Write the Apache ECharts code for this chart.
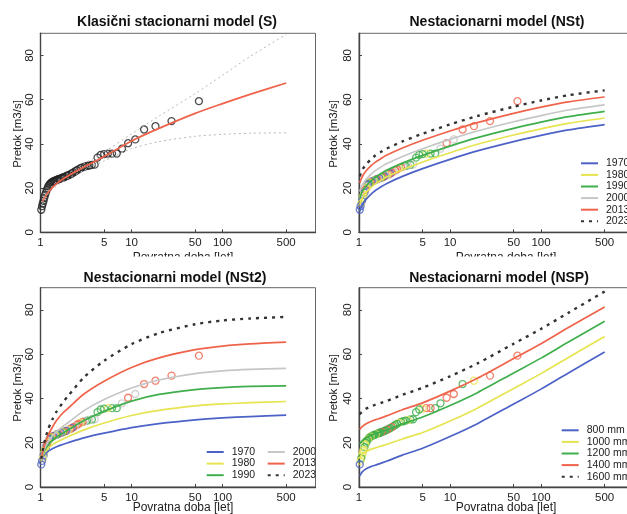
<!DOCTYPE html>
<html><head><meta charset="utf-8">
<script src="https://cdn.jsdelivr.net/npm/echarts@6/dist/echarts.min.js"></script>
<style>html,body{margin:0;padding:0;background:#fff}#c{width:627px;height:514px}</style>
</head><body><div id="c"></div>
<script>
// ---------- data ----------
const xTickValues = [1, 5, 10, 50, 100, 500];
const yTickValues = [0, 20, 40, 60, 80];

// observed annual maxima (plotting positions, sorted descending)
const obsT = [55,27.5,18.33,13.75,11,9.17,7.86,6.88,6.11,5.5,5,4.58,4.23,3.93,3.67,3.44,3.24,3.06,2.89,2.75,2.62,2.5,2.39,2.29,2.2,2.12,2.04,1.96,1.9,1.83,1.77,1.72,1.67,1.62,1.57,1.53,1.49,1.45,1.41,1.38,1.34,1.31,1.28,1.25,1.22,1.2,1.17,1.15,1.12,1.1,1.08,1.06,1.04,1.02];
const obsQ = [59.3,50.3,48.0,46.5,42.0,40.3,37.8,35.6,35.6,35.6,35.4,35.0,33.8,30.6,30.5,30.2,30.0,29.7,29.4,29.0,28.5,28.0,27.5,27.0,26.6,26.2,25.9,25.6,25.3,25.0,24.8,24.6,24.4,24.2,24.0,23.8,23.6,23.4,23.2,23.0,22.7,22.4,22.0,21.5,20.8,20.0,19.2,18.0,16.8,15.5,14.2,13.0,11.8,10.2];
// point classes: decade (B=1970s, Y=1980s, G=1990s, A=2000s, R=2010s) and precipitation class
const obsDecade = ['R','R','R','R','A','R','A','G','G','Y', 'G','G','G','A','G','A','G','A','R','Y', 'R','R','A','R','B','R','Y','A','B','R', 'G','Y','B','A','R','B','G','Y','A','B', 'R','Y','G','B','A','Y','R','B','Y','Y', 'B','Y','B','B'];
const obsPrecip = ['R','R','Y','G','R','R','G','G','R','R', 'Y','G','G','G','G','Y','G','G','G','Y', 'G','G','G','R','G','G','R','G','G','G', 'R','G','G','G','G','Y','G','G','G','G', 'Y','G','G','Y','G','G','Y','G','Y','Y', 'Y','G','Y','B'];

// (S) stationary model
const sT     = [1.05,1.1,1.2,1.35,1.5,1.75,2,3,5,10,20,50,100,200,500];
const sFit   = [14.0,15.5,17.8,20.2,22.0,24.0,25.5,29.5,34.3,41.3,47.0,53.8,58.2,62.4,67.5];
const sLower = [13.2,14.8,17.0,19.3,21.0,22.9,24.3,28.0,32.3,37.8,41.0,43.4,44.3,44.8,45.0];
const sUpper = [14.8,16.3,18.6,21.1,23.0,25.1,26.7,31.0,36.3,44.5,52.5,62.7,71.0,79.5,89.5];

// common return-period grid of the non-stationary curves
const curveT = [1.02,1.05,1.1,1.2,1.35,1.5,1.75,2,3,5,10,20,50,100,200,500];

// (NSt)
const nstNames = ['1970','1980','1990','2000','2013','2023'];
const nst1970 = [9.5,11.0,12.8,15.0,17.2,18.8,20.6,22.0,25.3,28.8,33.0,36.8,41.0,43.8,46.3,48.7];
const nst1980 = [12.5,14.0,15.8,18.0,20.2,21.8,23.6,25.0,28.3,31.8,36.0,39.8,44.0,46.8,49.3,51.7];
const nst1990 = [15.5,17.0,18.8,21.0,23.2,24.8,26.6,28.0,31.3,34.8,39.0,42.8,47.0,49.8,52.3,54.7];
const nst2000 = [18.5,20.0,21.8,24.0,26.2,27.8,29.6,31.0,34.3,37.8,42.0,45.8,50.0,52.8,55.3,57.6];
const nst2013 = [22.3,23.8,25.6,27.8,30.0,31.6,33.4,34.8,38.1,41.6,45.8,49.6,53.8,56.6,59.0,61.2];
const nst2023 = [25.3,26.8,28.6,30.8,33.0,34.6,36.4,37.8,41.1,44.6,48.8,52.6,56.8,59.6,62.0,64.2];

// (NSt2)
const nst2_1970 = [11.5,13.0,14.5,16.0,17.3,18.2,19.2,20.0,22.2,24.3,26.8,28.6,30.3,31.2,31.8,32.5];
const nst2_1980 = [11.8,13.5,15.3,17.3,19.0,20.2,21.6,22.7,25.8,28.9,32.3,34.6,36.6,37.5,38.1,38.6];
const nst2_1990 = [12.0,14.0,16.2,18.8,21.0,22.5,24.3,25.7,30.0,34.2,38.8,41.8,44.0,44.9,45.4,45.7];
const nst2_2000 = [12.2,14.5,17.0,20.2,23.0,25.0,27.3,29.0,34.5,39.5,44.7,48.3,51.2,52.4,53.1,53.6];
const nst2_2013 = [12.5,15.2,18.5,23.0,27.0,30.0,33.3,35.5,42.0,47.8,54.0,58.3,62.0,63.6,64.6,65.4];
const nst2_2023 = [12.8,16.0,20.0,25.5,30.5,34.0,38.0,41.0,49.5,57.0,64.5,69.5,73.5,75.2,76.1,76.8];

// (NSP)
const nspNames = ['800 mm','1000 mm','1200 mm','1400 mm','1600 mm'];
const nsp800  = [5.0,6.0,7.0,8.2,9.2,9.8,10.8,11.6,14.4,17.5,22.8,28.6,37.5,44.2,51.5,61.0];
const nsp1000 = [13.0,14.0,15.0,16.0,17.0,17.6,18.5,19.2,21.7,24.6,29.8,35.6,44.5,51.2,58.5,68.0];
const nsp1200 = [19.5,20.3,21.2,22.4,23.3,24.0,24.9,25.7,28.5,31.6,36.8,42.6,51.5,58.2,65.5,74.8];
const nsp1400 = [26.0,26.7,27.5,28.6,29.6,30.3,31.2,32.1,34.9,38.0,43.3,49.1,58.0,64.7,72.0,81.3];
const nsp1600 = [32.8,33.5,34.3,35.4,36.4,37.1,38.0,38.8,41.6,44.8,50.0,55.8,64.7,71.4,78.7,88.3];

// ---------- styles ----------
const C = {B:'#4c62c6', Y:'#e6e450', G:'#3fae4c', A:'#c6c6c6', R:'#f0634b', K:'#333333'};
const lineColors = [C.B, C.Y, C.G, C.A, C.R, C.K];
const FONT = 'Liberation Sans, Arial, sans-serif';

const grids = [
  {left: 40.5, top: 33.3, width: 275, height: 199},
  {left: 359, top: 33.3, width: 275, height: 199},
  {left: 40.5, top: 287.7, width: 275, height: 199.3},
  {left: 359, top: 287.7, width: 275, height: 199.3}
].map(g => Object.assign(g, {show: true, borderColor: '#666', borderWidth: 1, backgroundColor: 'transparent', containLabel: false, outerBoundsMode: 'none'}));

const xAxes = grids.map((g, i) => ({
  type: 'log', logBase: 10, gridIndex: i, min: 1, max: 1050,
  axisLine: {show: true, lineStyle: {color: '#444', width: 1.4}},
  axisTick: {show: true, inside: true, length: 3, customValues: xTickValues, lineStyle: {color: '#444'}},
  axisLabel: {customValues: xTickValues, margin: 5, fontSize: 11.5, color: '#222', fontFamily: FONT},
  splitLine: {show: false}, minorTick: {show: false}
}));
const yAxes = grids.map((g, i) => ({
  type: 'value', gridIndex: i, min: 0, max: 90,
  axisLine: {show: true, lineStyle: {color: '#444', width: 1.4}},
  axisTick: {show: true, inside: true, length: 3, customValues: yTickValues, lineStyle: {color: '#444'}},
  axisLabel: {customValues: yTickValues, rotate: 90, margin: 5, fontSize: 11.5, color: '#222', fontFamily: FONT},
  splitLine: {show: false}
}));

function pairs(xs, ys) { return xs.map((x, i) => [x, ys[i]]); }
function curve(name, idx, ys, color, dotted) {
  return {
    type: 'line', name: name, xAxisIndex: idx, yAxisIndex: idx,
    data: pairs(curveT, ys), symbol: 'circle', symbolSize: 0, showSymbol: false, smooth: 0.25, z: 3,
    lineStyle: dotted ? {color: color, width: 2.4, type: [3, 5]} : {color: color, width: 1.7},
    itemStyle: {color: 'rgba(0,0,0,0)'}
  };
}
function points(idx, cls) {
  return {
    type: 'scatter', xAxisIndex: idx, yAxisIndex: idx, symbol: 'circle', symbolSize: 7, z: 2,
    data: obsT.map((t, i) => ({value: [t, obsQ[i]], itemStyle: {color: 'rgba(0,0,0,0)', borderColor: cls ? C[cls[i]] : '#222', borderWidth: 1.3}}))
  };
}

const series = [];
// panel 0: S
series.push(points(0, null));
series.push({type: 'line', xAxisIndex: 0, yAxisIndex: 0, data: pairs(sT, sFit), symbol: 'none', smooth: 0.25, z: 3, lineStyle: {color: C.R, width: 1.7}});
series.push({type: 'line', xAxisIndex: 0, yAxisIndex: 0, data: pairs(sT, sLower), symbol: 'none', smooth: 0.25, z: 3, lineStyle: {color: '#b8b8b8', width: 1, type: [2, 3]}});
series.push({type: 'line', xAxisIndex: 0, yAxisIndex: 0, data: pairs(sT, sUpper), symbol: 'none', smooth: 0.25, z: 3, lineStyle: {color: '#b8b8b8', width: 1, type: [2, 3]}});
// panel 1: NSt
series.push(points(1, obsDecade));
[nst1970, nst1980, nst1990, nst2000, nst2013, nst2023].forEach((ys, k) => series.push(curve(nstNames[k], 1, ys, lineColors[k], k === 5)));
// panel 2: NSt2
series.push(points(2, obsDecade));
[nst2_1970, nst2_1980, nst2_1990, nst2_2000, nst2_2013, nst2_2023].forEach((ys, k) => series.push(curve(nstNames[k], 2, ys, lineColors[k], k === 5)));
// panel 3: NSP
series.push(points(3, obsPrecip));
[nsp800, nsp1000, nsp1200, nsp1400, nsp1600].forEach((ys, k) => series.push(curve(nspNames[k], 3, ys, [C.B, C.Y, C.G, C.R, C.K][k], k === 4)));

function legend(names, left, top) {
  return {
    data: names, orient: 'vertical', left: left, top: top, itemWidth: 17, itemHeight: 8, itemGap: 0.6,
    selectedMode: false, padding: 0,
    itemStyle: {color: 'rgba(0,0,0,0)', borderColor: 'rgba(0,0,0,0)', borderWidth: 0, opacity: 0},
    textStyle: {fontSize: 10.5, color: '#222', fontFamily: FONT, lineHeight: 11, padding: [0, 0, 0, 3]}
  };
}

const titles = [
  ['Klasični stacionarni model (S)', 177, 22.5],
  ['Nestacionarni model (NSt)', 497, 22.5],
  ['Nestacionarni model (NSt2)', 175, 278.5],
  ['Nestacionarni model (NSP)', 499, 278.5]
];
const graphic = [];
titles.forEach(t => graphic.push({type: 'text', x: t[1], y: t[2], z: 10,
  style: {text: t[0], font: 'bold 14px ' + FONT, fill: '#111', align: 'center', verticalAlign: 'middle', textAlign: 'center', textVerticalAlign: 'middle'}}));
[[17.5, 134], [334, 134], [17.5, 388], [334, 388]].forEach(p => graphic.push({type: 'text', x: p[0], y: p[1], rotation: Math.PI / 2, z: 10,
  style: {text: 'Pretok [m3/s]', font: '11.5px ' + FONT, fill: '#222', align: 'center', verticalAlign: 'middle', textAlign: 'center', textVerticalAlign: 'middle'}}));
[[183, 258], [506, 258], [183, 507.5], [506, 507.5]].forEach(p => graphic.push({type: 'text', x: p[0], y: p[1], z: 10,
  style: {text: 'Povratna doba [let]', font: '12px ' + FONT, fill: '#222', align: 'center', verticalAlign: 'middle', textAlign: 'center', textVerticalAlign: 'middle'}}));
// bottom panels are stacked over the top ones: mask the clipped part of the top x-titles
graphic.push({type: 'rect', shape: {x: 0, y: 256.5, width: 627, height: 11}, style: {fill: '#fff'}, z: 20});

const chart = echarts.init(document.getElementById('c'), null, {renderer: 'canvas'});
chart.setOption({
  animation: false,
  backgroundColor: '#fff',
  grid: grids, xAxis: xAxes, yAxis: yAxes, series: series,
  legend: [
    legend(nstNames, 580, 157.8),
    legend(nstNames.slice(0, 3), 205.7, 446.5),
    legend(nstNames.slice(3), 266.7, 446.5),
    legend(nspNames, 560.7, 424.8)
  ],
  graphic: graphic
});
</script></body></html>
